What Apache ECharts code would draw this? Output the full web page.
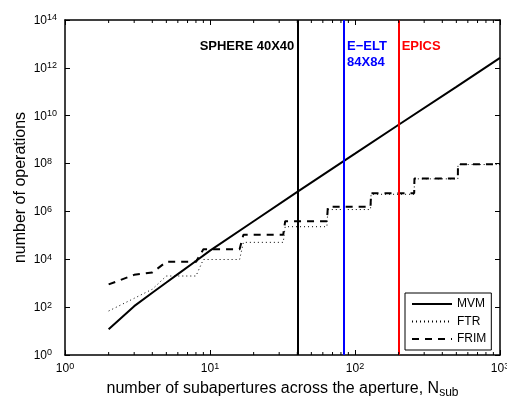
<!DOCTYPE html>
<html>
<head>
<meta charset="utf-8">
<script src="https://cdn.jsdelivr.net/npm/echarts@6/dist/echarts.min.js"></script>
<style>
    html, body { margin: 0; padding: 0; background: #fff; }
    #chart { width: 507px; height: 405px; }
</style>
</head>
<body>
<div id="chart"></div>
<script>
// MVM：直线增长（N 为子孔径数）
var mvmN = [2, 3, 4, 5, 6, 8, 10, 20, 40, 84, 100, 200, 500, 1000];
var mvmOps = [12, 110, 400, 1070, 2400, 8500, 2.3e4, 3.9e5, 6.6e6, 1.3e8, 2.6e8, 4.2e9, 1.6e11, 2.6e12];

// FTR / FRIM：台阶状（FFT 尺寸翻倍处跳变）
var stepN = [2, 3, 4, 5, 8, 9, 16, 17, 32, 33, 64, 65, 128, 129, 256, 257, 512, 513, 1000];
var ftrOps = [69, 234, 562, 2000, 2000, 9800, 9800, 5.1e4, 5.1e4, 2.3e5, 2.3e5, 1.2e6, 1.2e6, 5.2e6, 5.2e6, 2.3e7, 2.3e7, 9.1e7, 9.1e7];
var frimOps = [890, 2240, 2800, 7800, 7800, 2.6e4, 2.6e4, 1.07e5, 1.07e5, 3.9e5, 3.9e5, 1.55e6, 1.55e6, 5.75e6, 5.75e6, 2.4e7, 2.4e7, 9.3e7, 9.3e7];

// 竖线：各仪器的子孔径数
var markerN = [40, 84, 200];
var markerText = ['SPHERE 40X40', 'E\u2212ELT\n84X84', 'EPICS'];
var markerColor = ['#000000', '#0000ff', '#ff0000'];

// x 轴次刻度（2..9 每个十倍程）
var minorN = [2, 3, 4, 5, 6, 7, 8, 9, 20, 30, 40, 50, 60, 70, 80, 90, 200, 300, 400, 500, 600, 700, 800, 900];

var FONT = 'Liberation Sans';

function zip(xs, ys) {
    return xs.map(function(x, i) { return [x, ys[i]]; });
}

// 10 的幂标签；一位指数右侧补空，使 "10" 位置对齐
function powLabel(v) {
    var e = Math.round(Math.log(v) / Math.LN10);
    var s = String(e).length > 1 ? 'e2' : 'e1';
    return '{b|10}{' + s + '|' + e + '}';
}
function powLabelX(v) {
    var e = Math.round(Math.log(v) / Math.LN10);
    return '{b|10}{e2|' + e + '}';
}

var supStyle = { fontSize: 9, lineHeight: 10, fontFamily: FONT, color: '#000', verticalAlign: 'top' };
var powRich = {
    b: { fontSize: 12, lineHeight: 13, fontFamily: FONT, color: '#000', padding: [4, 0, 0, 0], verticalAlign: 'bottom' },
    e1: Object.assign({ padding: [0, 5, 0, 0] }, supStyle),
    e2: Object.assign({ padding: [0, 0, 0, 0] }, supStyle)
};

function logAxis(pos, min, max, show) {
    return {
        type: 'log',
        logBase: 10,
        position: pos,
        min: min,
        max: max,
        nameMoveOverlap: false,
        axisLine: { show: true, onZero: false, lineStyle: { color: '#000', width: 1.5 } },
        axisTick: { show: true, inside: true, length: 5, lineStyle: { color: '#000', width: 1 } },
        minorTick: { show: false },
        splitLine: { show: false },
        axisLabel: { show: show, formatter: powLabel, rich: powRich, showMinLabel: true, showMaxLabel: true }
    };
}

var xBottom = logAxis('bottom', 1, 1000, true);
xBottom.axisLabel.margin = 7;
xBottom.axisLabel.formatter = powLabelX;
xBottom.name = '{t|number of subapertures across the aperture, N}{s|sub}';
xBottom.nameLocation = 'middle';
xBottom.nameGap = 26;
xBottom.nameTextStyle = {
    rich: {
        t: { fontSize: 16, lineHeight: 18, fontFamily: FONT, color: '#000', verticalAlign: 'top', padding: [0, 0, 5, 0] },
        s: { fontSize: 12, lineHeight: 13, fontFamily: FONT, color: '#000', verticalAlign: 'bottom' }
    }
};
var xTop = logAxis('top', 1, 1000, false);

var yLeft = logAxis('left', 1, 1e14, true);
yLeft.interval = 2;
yLeft.axisLabel.margin = 8;
yLeft.name = 'number of operations';
yLeft.nameLocation = 'middle';
yLeft.nameGap = 36;
yLeft.nameTextStyle = { fontSize: 16, fontFamily: FONT, color: '#000' };
var yRight = logAxis('right', 1, 1e14, false);
yRight.interval = 2;

var markLines = markerN.map(function(n, i) {
    return { xAxis: n, lineStyle: { color: markerColor[i], width: 2, type: 'solid' } };
});

// 文字标注的纵向位置（对数坐标）
var labelY = [Math.pow(10, 12.9), Math.pow(10, 12.55), Math.pow(10, 12.9)];
var markPoints = markerN.map(function(n, i) {
    return {
        coord: [n, labelY[i]],
        symbol: 'circle',
        symbolSize: 0,
        label: {
            show: true,
            formatter: markerText[i],
            position: i === 0 ? 'left' : 'right',
            distance: 3,
            color: markerColor[i],
            fontFamily: FONT,
            fontWeight: 'bold',
            fontSize: 13,
            lineHeight: 16,
            align: i === 0 ? 'right' : 'left'
        }
    };
});

var myChart = echarts.init(document.getElementById('chart'), null, { renderer: 'canvas' });

var option = {
    animation: false,
    backgroundColor: '#fff',
    grid: { left: 65, right: 7, top: 20, bottom: 50, show: false, outerBoundsMode: 'none' },
    xAxis: [xBottom, xTop],
    yAxis: [yLeft, yRight],
    legend: {
        data: ['MVM', 'FTR', 'FRIM'],
        orient: 'vertical',
        left: 405,
        top: 293,
        itemWidth: 40,
        itemHeight: 12,
        itemGap: 5.5,
        padding: [5, 5, 5, 6],
        borderColor: '#000',
        borderWidth: 1,
        backgroundColor: '#fff',
        itemStyle: { opacity: 0 },
        textStyle: { fontSize: 12, fontFamily: FONT, color: '#000' }
    },
    series: [
        {
            name: 'MVM',
            type: 'line',
            data: zip(mvmN, mvmOps),
            symbol: 'none',
            color: '#000',
            lineStyle: { color: '#000', width: 2, type: 'solid' },
            z: 4
        },
        {
            name: 'FTR',
            type: 'line',
            data: zip(stepN, ftrOps),
            symbol: 'none',
            color: '#000',
            lineStyle: { color: '#000', width: 1, type: [1, 3] },
            z: 3
        },
        {
            name: 'FRIM',
            type: 'line',
            data: zip(stepN, frimOps),
            symbol: 'none',
            color: '#000',
            lineStyle: { color: '#000', width: 2, type: [7, 6] },
            z: 3
        },
        {
            // 仪器竖线及文字
            type: 'line',
            data: [],
            symbol: 'none',
            markLine: {
                silent: true,
                symbol: ['none', 'none'],
                label: { show: false },
                data: markLines
            },
            markPoint: {
                silent: true,
                data: markPoints
            },
            z: 5
        },
        {
            // x 轴次刻度（上下两边）
            type: 'custom',
            silent: true,
            clip: false,
            data: minorN.map(function(n) { return [n, 1]; }),
            renderItem: function(params, api) {
                var x = api.coord([api.value(0), 1])[0];
                var cs = params.coordSys;
                var b = cs.y + cs.height, t = cs.y;
                return {
                    type: 'group',
                    children: [
                        { type: 'line', shape: { x1: x, y1: b, x2: x, y2: b - 3 }, style: { stroke: '#000', lineWidth: 1 } },
                        { type: 'line', shape: { x1: x, y1: t, x2: x, y2: t + 3 }, style: { stroke: '#000', lineWidth: 1 } }
                    ]
                };
            },
            z: 6
        }
    ]
};

myChart.setOption(option);
</script>
</body>
</html>
